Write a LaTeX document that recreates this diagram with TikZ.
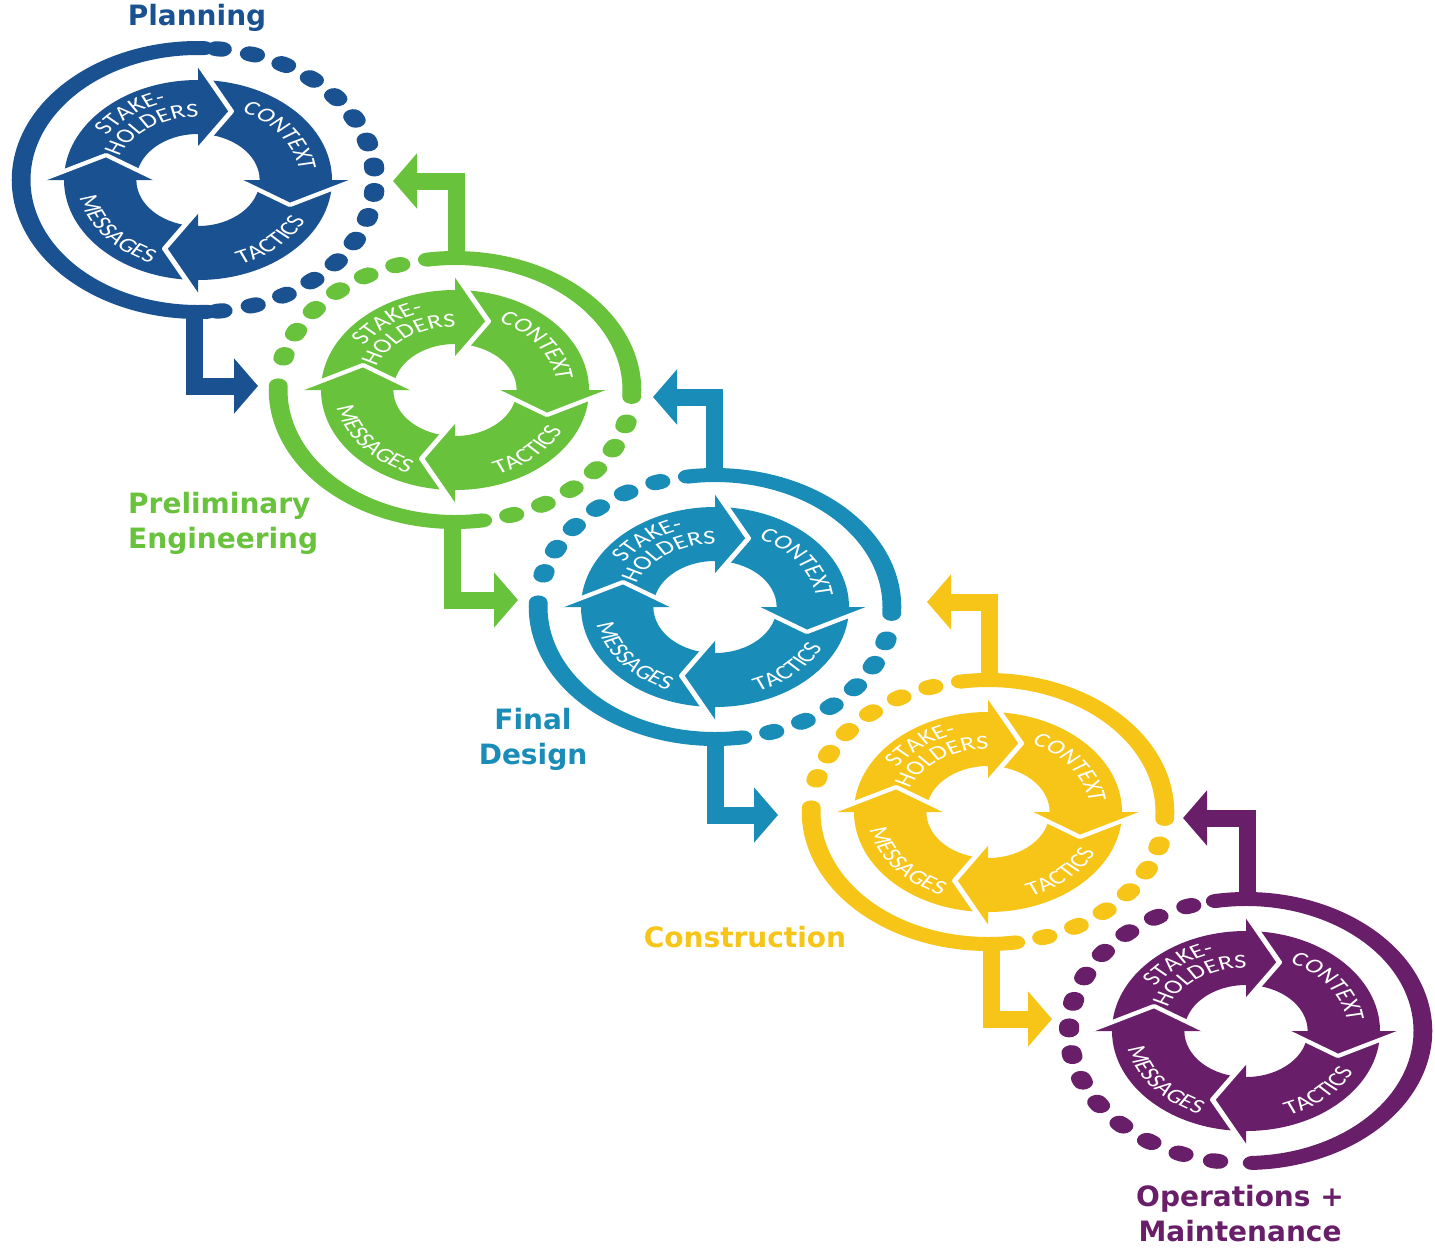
\documentclass[tikz,border=0pt]{standalone}
\usepackage{fontspec}
\setmainfont{DejaVu Sans}
\newfontfamily\carl{Carlito}
\usetikzlibrary{arrows.meta,decorations.text}
\definecolor{cplan}{HTML}{1A5190}
\definecolor{cprel}{HTML}{68C23C}
\definecolor{cfin}{HTML}{1A8CB8}
\definecolor{ccon}{HTML}{F7C418}
\definecolor{cops}{HTML}{681E69}
\newcommand{\arrtxt}{\carl\fontsize{20}{20}\selectfont}
\tikzset{
  ringsolid/.style={draw=sc, line width=14pt, line cap=round},
  conn/.style={line width=17pt, -{Triangle[length=24pt,width=54pt]}},
  lbl/.style={font=\bfseries\fontsize{28}{35}\selectfont, inner sep=0pt},
}
\newcommand{\solidarc}[2]{\draw[ringsolid] (#1:132) arc[start angle=#1,end angle=#2,radius=132];}
\newcommand{\dotarc}[3]{\draw[ringsolid, line width=15pt, dash pattern=on 4pt off #3pt] (#1:132) arc[start angle=#1,end angle=#2,radius=132];}
\newcommand{\curvtext}[4]{%
  \path[decorate,decoration={text along path,text={|\arrtxt|#1},text align=center,text color=white}]
    (#2:#4) arc[start angle=#2,end angle=#3,radius=#4];}
\newcommand{\innerring}{%
  \foreach \bb in {90,0,-90,-180}{
    \fill[sc] (\bb:46) arc[start angle=\bb, end angle=\bb+90, radius=46]
      -- (\bb+90:100) arc[start angle=\bb+90, end angle=\bb, radius=100] -- cycle;
  }
  \foreach \bb in {90,0,-90,-180}{
    \fill[sc] (\bb:30) -- (\bb-20:73) -- (\bb:117) -- cycle;
    \draw[white, line width=4pt, line join=round] (\bb:30) -- (\bb-20:73) -- (\bb:117);
  }
  \curvtext{STAKE-}{177}{77}{81}
  \curvtext{HOLDERS}{174}{74}{63}
  \curvtext{CONTEXT}{86}{-14}{76}
  \curvtext{TACTICS}{-98}{2}{90}
  \curvtext{MESSAGES}{169}{269}{90}
}
\newcommand{\drawstage}[4]{%
  \colorlet{sc}{#3}%
  \begin{scope}[transform canvas={shift={(#1,-#2)},xscale=1.34}]
    #4
    \innerring
  \end{scope}}

\begin{document}
\begin{tikzpicture}[x=1pt,y=1pt]
\path[use as bounding box, fill=white] (0,0) rectangle (1435,-1251);

% stages
\drawstage{198}{180}{cplan}{\solidarc{88}{273}\dotarc{84}{-84}{21.5}}
\drawstage{455}{390}{cprel}{\solidarc{99}{-3}\solidarc{178}{279}\dotarc{108}{166}{22}\dotarc{-14}{-74}{22}}
\drawstage{715}{607}{cfin}{\solidarc{99}{-3}\solidarc{178}{279}\dotarc{108}{166}{22}\dotarc{-14}{-74}{22}}
\drawstage{988}{812}{ccon}{\solidarc{99}{-3}\solidarc{178}{279}\dotarc{108}{166}{22}\dotarc{-14}{-74}{22}}
\drawstage{1246}{1031}{cops}{\solidarc{100}{-88}\dotarc{108}{261}{22.8}}

% connector anchor points
\coordinate (s1b) at (194,-308);
\coordinate (t1) at (258,-386);
\coordinate (s2b) at (452,-518);
\coordinate (t2) at (518,-600);
\coordinate (s3b) at (715,-735);
\coordinate (t3) at (778,-815);
\coordinate (s4b) at (991,-940);
\coordinate (t4) at (1052,-1019);
\coordinate (s2t) at (456,-262);
\coordinate (u1) at (393,-181);
\coordinate (s3t) at (714,-479);
\coordinate (u2) at (653,-397);
\coordinate (s4t) at (989,-684);
\coordinate (u3) at (927,-602);
\coordinate (s5t) at (1247,-903);
\coordinate (u4) at (1183,-818);

% forward connectors
\draw[conn, cplan] (s1b) |- (t1);
\draw[conn, cprel] (s2b) |- (t2);
\draw[conn, cfin] (s3b) |- (t3);
\draw[conn, ccon] (s4b) |- (t4);
% feedback connectors
\draw[conn, cprel] (s2t) |- (u1);
\draw[conn, cfin] (s3t) |- (u2);
\draw[conn, ccon] (s4t) |- (u3);
\draw[conn, cops] (s5t) |- (u4);

% labels
\node[lbl, text=cplan, anchor=north] (lplan) at (197,-4) {Planning};
\node[lbl, text=cprel, anchor=north west, align=left] (lprel) at (128,-492) {Preliminary\\Engineering};
\node[lbl, text=cfin, anchor=north, align=center] (lfin) at (533,-708) {Final\\Design};
\node[lbl, text=ccon, anchor=north] (lcon) at (745,-926) {Construction};
\node[lbl, text=cops, anchor=north, align=center] (lops) at (1240,-1185) {Operations +\\Maintenance};
\end{tikzpicture}
\end{document}
